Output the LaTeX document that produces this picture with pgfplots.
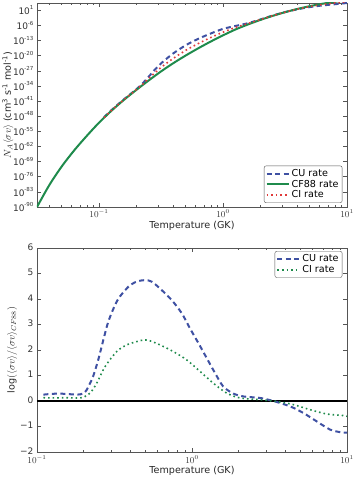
\documentclass[border=0pt]{standalone}
\usepackage{pgfplots}
\pgfplotsset{compat=1.18}
\usepackage{fontspec}
\setmainfont{DejaVu Sans}
\definecolor{cublue}{HTML}{3F51A3}
\definecolor{cfgreen}{HTML}{1F8B4C}
\definecolor{cired}{HTML}{E03A3A}
\definecolor{frame}{HTML}{555555}
\newcommand{\tp}[1]{10\raisebox{0.5em}{\fontsize{5.5}{6}\selectfont #1}}
\begin{document}
\begin{tikzpicture}
\pgfplotsset{
  every axis/.append style={
    scale only axis, width=310pt, height=204pt,
    font=\fontsize{9}{10.5}\selectfont,
    axis line style={frame, line width=0.6pt},
    tick style={frame, line width=0.5pt},
    major tick length=4pt, minor tick length=2pt,
    tick label style={text=black!80, font=\fontsize{9}{10.5}\selectfont},
    label style={text=black!85, font=\fontsize{9.6}{11}\selectfont},
    x label style={yshift=3pt},
    legend cell align=left,
    legend image code/.code={\draw[#1] (0pt,0pt) -- (22pt,0pt);},
    legend style={draw=frame, rounded corners=2pt, font=\fontsize{9.6}{11}\selectfont, inner sep=1.5pt, row sep=-2pt},
    y label style={at={(axis description cs:-0.094,0.5)}, anchor=center, rotate=0},
  },
}
% ---------------- top panel ----------------
\begin{axis}[
  name=top, at={(0,0)}, anchor=south west,
  xmode=log, ymode=log,
  xmin=0.03162, xmax=10, ymin=1e-90, ymax=2.3e4,
  xtick={0.1,1,10}, xticklabels={$10^{-1}$,$10^{0}$,$10^{1}$},
  x tick label style={yshift=1pt},
  minor xtick={0.04,0.05,0.06,0.07,0.08,0.09,0.2,0.3,0.4,0.5,0.6,0.7,0.8,0.9,2,3,4,5,6,7,8,9},
  ytick={1e-90,1e-83,1e-76,1e-69,1e-62,1e-55,1e-48,1e-41,1e-34,1e-27,1e-20,1e-13,1e-6,1e1},
  yticklabels={\tp{-90},\tp{-83},\tp{-76},\tp{-69},\tp{-62},\tp{-55},\tp{-48},\tp{-41},\tp{-34},\tp{-27},\tp{-20},\tp{-13},\tp{-6},\tp{1}},
  yminorticks=false,
  xlabel={Temperature (GK)},
  ylabel={$N_A\langle\sigma v\rangle$ (cm\textsuperscript{3} s\textsuperscript{-1} mol\textsuperscript{-1})},
  legend style={at={(0.985,0.02)}, anchor=south east},
]
\addplot[cublue, line width=2pt, dash pattern=on 5pt off 3.5pt, smooth] coordinates {
(0.11,3.162e-49)(0.1259,6.026e-46)(0.1585,5.623e-41)(0.1995,2.512e-36)(0.2239,1.202e-33)
(0.2512,1.660e-30)(0.2818,3.162e-27)(0.3162,2.512e-24)(0.3548,6.683e-22)(0.3981,1.230e-19)
(0.5012,6.918e-16)(0.6310,6.166e-13)(0.7943,1.660e-10)(1.0,2.455e-8)(1.259,5.370e-7)
(1.585,9.772e-6)(1.995,5.248e-4)(2.512,3.467e-2)(3.162,1.380)(3.981,28.18)
(5.012,302.0)(6.310,1660)(7.943,6026)(10,22910)};
\addlegendentry{CU rate}
\addplot[cfgreen, line width=2pt, smooth] coordinates {
(0.03162,1e-90)(0.03981,1.585e-80)(0.05012,6.31e-72)(0.06310,1.585e-64)(0.07943,6.31e-58)
(0.1,1e-51)(0.1259,3.162e-46)(0.1585,3.162e-41)(0.1995,1.259e-36)(0.2512,3.162e-32)
(0.3162,5.012e-28)(0.3981,3.548e-24)(0.5012,1.259e-20)(0.6310,2.512e-17)(0.7943,3.162e-14)
(1.0,2.512e-11)(1.259,1.259e-8)(1.585,2.512e-6)(1.995,3.162e-4)(2.512,2.512e-2)
(3.162,1.259)(3.981,39.81)(5.012,794.3)(6.310,1e4)(7.943,7.943e4)(10,3.981e5)};
\addlegendentry{CF88 rate}
\addplot[cired, line width=1.6pt, dash pattern=on 1.6pt off 3pt, smooth] coordinates {
(0.11,2.399e-49)(0.1259,4.266e-46)(0.1585,4.169e-41)(0.1995,1.778e-36)(0.2239,4.786e-34)
(0.2512,2.399e-31)(0.2818,1.072e-28)(0.3162,3.467e-26)(0.3548,5.070e-24)(0.3981,6.166e-22)
(0.5012,3.020e-18)(0.6310,3.890e-15)(0.7943,2.291e-12)(1.0,7.079e-10)(1.259,1.122e-7)
(1.585,6.607e-6)(1.995,4.467e-4)(2.512,2.951e-2)(3.162,1.288)(3.981,33.88)
(5.012,512.9)(6.310,4266)(7.943,2.399e4)(10,1e5)};
\addlegendentry{CI rate}
\end{axis}
% ---------------- bottom panel ----------------
\begin{axis}[
  at={(0,-245pt)}, anchor=south west,
  xmode=log,
  xmin=0.1, xmax=10, ymin=-2, ymax=6,
  xtick={0.1,1,10}, xticklabels={$10^{-1}$,$10^{0}$,$10^{1}$},
  x tick label style={yshift=-0.5pt},
  x label style={yshift=1.5pt},
  minor xtick={0.2,0.3,0.4,0.5,0.6,0.7,0.8,0.9,2,3,4,5,6,7,8,9},
  ytick={-2,-1,0,1,2,3,4,5,6},
  yticklabels={−2,−1,0,1,2,3,4,5,6},
  y tick label style={yshift=1pt},
  xlabel={Temperature (GK)},
  ylabel={$\log(\langle\sigma v\rangle/\langle\sigma v\rangle_{CF88})$},
  y label style={at={(axis description cs:-0.08,0.5)}},
  legend style={at={(0.985,0.985)}, anchor=north east},
]
\addplot[black, line width=1.5pt, forget plot] coordinates {(0.1,0)(10,0)};
\addplot[cublue, line width=2pt, dash pattern=on 5pt off 3.5pt, smooth] coordinates {
(0.11,0.25)(0.125,0.28)(0.14,0.29)(0.16,0.27)(0.18,0.25)(0.19,0.26)(0.2,0.3)(0.21,0.45)
(0.22,0.7)(0.23,0.96)(0.248,1.6)(0.268,2.4)(0.288,3.1)(0.318,3.75)(0.343,4.1)(0.398,4.54)
(0.45,4.7)(0.5,4.74)(0.55,4.68)(0.622,4.41)(0.739,3.96)(0.859,3.44)(0.97,2.85)(1.10,2.27)
(1.245,1.68)(1.41,1.09)(1.59,0.57)(1.85,0.29)(2.14,0.18)(2.4,0.15)(2.75,0.12)(3.35,0.0)
(4.29,-0.21)(5.23,-0.47)(6.38,-0.8)(7.77,-1.12)(9.0,-1.22)(10,-1.24)};
\addlegendentry{CU rate}
\addplot[cfgreen, line width=1.6pt, dash pattern=on 1.6pt off 3pt, smooth] coordinates {
(0.11,0.13)(0.13,0.12)(0.15,0.13)(0.17,0.12)(0.19,0.12)(0.2,0.15)(0.22,0.31)(0.243,0.7)
(0.275,1.35)(0.327,1.94)(0.379,2.2)(0.44,2.33)(0.485,2.39)(0.53,2.37)(0.622,2.2)(0.757,1.94)
(0.925,1.61)(1.127,1.16)(1.372,0.7)(1.675,0.31)(2.04,0.12)(2.75,0.05)(3.52,-0.02)(4.5,-0.14)
(5.77,-0.34)(7.4,-0.51)(9.46,-0.57)(10,-0.6)};
\addlegendentry{CI rate}
\end{axis}
\pgfresetboundingbox
\useasboundingbox (-37pt,-271pt) rectangle (319pt,207pt);
\end{tikzpicture}
\end{document}
